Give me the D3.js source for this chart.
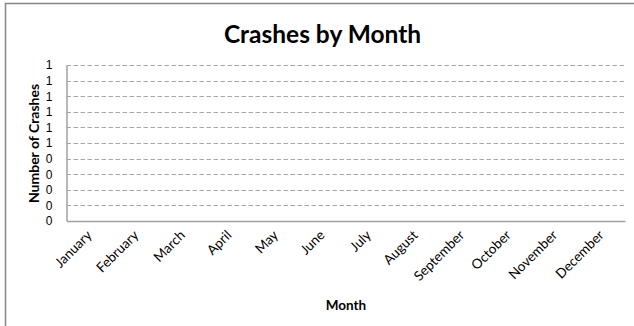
<!DOCTYPE html>
<html>
<head>
<meta charset="utf-8">
<script src="https://cdn.jsdelivr.net/npm/d3@7"></script>
<style>
  html, body { margin: 0; padding: 0; background: #fff; }
  svg { display: block; }
</style>
</head>
<body>
<svg id="chart" width="634" height="326"></svg>
<script>
// Months on the category axis
const months = ["January", "February", "March", "April", "May", "June",
                "July", "August", "September", "October", "November", "December"];
// Crash counts per month (no crashes recorded)
const crashes = [0, 0, 0, 0, 0, 0, 0, 0, 0, 0, 0, 0];
// Value-axis ticks
const yTicks = [0, 0.1, 0.2, 0.3, 0.4, 0.5, 0.6, 0.7, 0.8, 0.9, 1];

const svg = d3.select("#chart");
const W = 634, H = 326;
const plot = { left: 66.5, right: 625, top: 65, bottom: 221 };

// Outer chart frame
svg.append("rect")
  .attr("x", 5.5).attr("y", 3.5)
  .attr("width", W + 10).attr("height", H + 10)
  .attr("fill", "#fff").attr("stroke", "#868686").attr("stroke-width", 1.5);

const x = d3.scaleBand().domain(months).range([plot.left, plot.right]).padding(0.3);
const y = d3.scaleLinear().domain([0, 1]).range([plot.bottom, plot.top]);

// Horizontal dashed gridlines
svg.append("g")
  .selectAll("line")
  .data(yTicks.filter(t => t > 0))
  .join("line")
  .attr("x1", plot.left).attr("x2", plot.right)
  .attr("y1", d => Math.round(y(d)) + 0.5).attr("y2", d => Math.round(y(d)) + 0.5)
  .attr("stroke", "#a6a6a6")
  .attr("stroke-dasharray", "4.5,2.5");

// Bars
svg.append("g")
  .selectAll("rect")
  .data(crashes)
  .join("rect")
  .attr("x", (d, i) => x(months[i]))
  .attr("width", x.bandwidth())
  .attr("y", d => y(d))
  .attr("height", d => plot.bottom - y(d))
  .attr("fill", "#4f81bd");

// Value axis
const yAxis = svg.append("g")
  .attr("transform", `translate(${plot.left},0)`)
  .call(d3.axisLeft(y).tickValues(yTicks).tickFormat(d3.format(".0f")).tickSize(0).tickPadding(14));
yAxis.select(".domain").attr("stroke", "#a0a0a0").attr("stroke-width", 1.5);
yAxis.selectAll("text")
  .attr("font-family", "'Liberation Sans', Arial, sans-serif")
  .attr("font-size", 12)
  .attr("fill", "#000");

// Category axis
const xAxis = svg.append("g")
  .attr("transform", `translate(0,${plot.bottom})`)
  .call(d3.axisBottom(x.copy().padding(0)).tickSize(0));
xAxis.select(".domain").attr("stroke", "#a0a0a0").attr("stroke-width", 1.5);
xAxis.selectAll("text")
  .attr("font-family", "Lato, 'Open Sans', sans-serif")
  .attr("font-size", 13.5)
  .attr("fill", "#000")
  .attr("text-anchor", "end")
  .attr("dy", 0)
  .attr("y", 0)
  .attr("transform", "translate(3,15) rotate(-45)");

// Title
svg.append("text")
  .attr("x", 322.5).attr("y", 43)
  .attr("text-anchor", "middle")
  .attr("font-family", "Lato, 'Open Sans', sans-serif")
  .attr("font-weight", "bold")
  .attr("font-size", 24.5)
  .attr("fill", "#000")
  .text("Crashes by Month");

// Axis titles
svg.append("text")
  .attr("x", 346).attr("y", 309.5)
  .attr("text-anchor", "middle")
  .attr("font-family", "Lato, 'Open Sans', sans-serif")
  .attr("font-weight", "bold")
  .attr("font-size", 13.5)
  .attr("fill", "#000")
  .text("Month");

svg.append("text")
  .attr("transform", "translate(38.5,143.5) rotate(-90)")
  .attr("text-anchor", "middle")
  .attr("font-family", "Lato, 'Open Sans', sans-serif")
  .attr("font-weight", "bold")
  .attr("font-size", 14)
  .attr("fill", "#000")
  .text("Number of Crashes");
</script>
</body>
</html>
